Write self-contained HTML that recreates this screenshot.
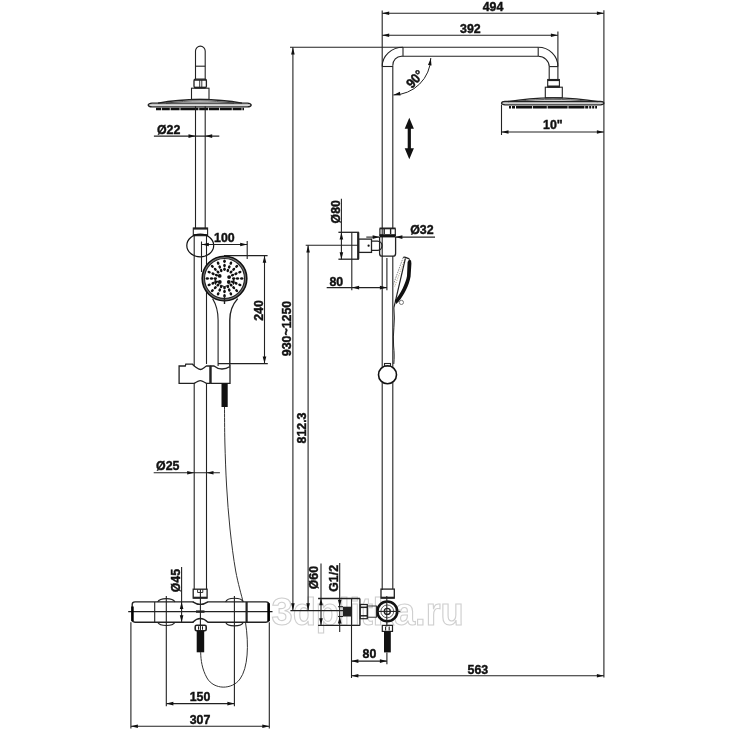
<!DOCTYPE html>
<html><head><meta charset="utf-8"><style>
html,body{margin:0;padding:0;background:#fff;width:734px;height:734px;overflow:hidden}
svg{display:block;will-change:transform}
text{font-family:"Liberation Sans",sans-serif}
</style></head><body>
<svg width="734" height="734" viewBox="0 0 734 734" font-family="Liberation Sans, sans-serif"><text x="271.5" y="625" font-size="38" font-weight="bold" fill="none" stroke="#cfcfcf" stroke-width="1.1">3dplitka.ru</text>
<line x1="382.2" y1="10.5" x2="382.2" y2="590" stroke="#222" stroke-width="1.1"/>
<line x1="382.2" y1="13.2" x2="603.9" y2="13.2" stroke="#222" stroke-width="1.1"/>
<path d="M382.20,13.20 L389.20,11.40 L389.20,15.00 Z" fill="#111"/>
<path d="M603.90,13.20 L596.90,15.00 L596.90,11.40 Z" fill="#111"/>
<text x="0" y="0" font-size="13.6" text-anchor="middle" font-weight="bold" fill="#111" stroke="#111" stroke-width="0.45" transform="translate(493 10.8) scale(0.91 1)" >494</text>
<line x1="382.2" y1="35.2" x2="557.9" y2="35.2" stroke="#222" stroke-width="1.1"/>
<path d="M382.20,35.20 L389.20,33.40 L389.20,37.00 Z" fill="#111"/>
<path d="M557.90,35.20 L550.90,37.00 L550.90,33.40 Z" fill="#111"/>
<text x="0" y="0" font-size="13.6" text-anchor="middle" font-weight="bold" fill="#111" stroke="#111" stroke-width="0.45" transform="translate(470.4 32.7) scale(0.91 1)" >392</text>
<line x1="557.9" y1="31.5" x2="557.9" y2="79.5" stroke="#222" stroke-width="1.1"/>
<line x1="603.9" y1="10.2" x2="603.9" y2="677.5" stroke="#222" stroke-width="1.1"/>
<line x1="290" y1="47.3" x2="538.2" y2="47.3" stroke="#222" stroke-width="1.1"/>
<line x1="401" y1="56.3" x2="538.2" y2="56.3" stroke="#222" stroke-width="1.1"/>
<path d="M382.2,66.5 A20.8,19.2 0 0 1 403,47.3" stroke="#222" stroke-width="1.1" fill="none"/>
<line x1="403" y1="47.3" x2="403" y2="56.3" stroke="#222" stroke-width="1.1"/>
<line x1="382.2" y1="66.5" x2="392.8" y2="66.5" stroke="#222" stroke-width="1.1"/>
<path d="M392.8,65.5 A8.5,9.2 0 0 1 401.3,56.3" stroke="#222" stroke-width="1.1" fill="none"/>
<line x1="392.8" y1="65.5" x2="392.8" y2="228" stroke="#222" stroke-width="1.1"/>
<line x1="538.2" y1="47.3" x2="538.2" y2="56.3" stroke="#222" stroke-width="1.1"/>
<path d="M538.2,47.3 A19.7,19.3 0 0 1 557.9,66.6" stroke="#222" stroke-width="1.1" fill="none"/>
<path d="M538.2,56.3 A11,10.3 0 0 1 549.2,66.6" stroke="#222" stroke-width="1.1" fill="none"/>
<line x1="549.2" y1="66.6" x2="557.9" y2="66.6" stroke="#222" stroke-width="1.1"/>
<line x1="549.2" y1="66.6" x2="549.2" y2="79.5" stroke="#222" stroke-width="1.1"/>
<rect x="547.7" y="79.5" width="11.7" height="7.7" rx="0" stroke="#222" stroke-width="1.1" fill="none"/>
<line x1="547.7" y1="80.3" x2="559.4" y2="80.3" stroke="#222" stroke-width="1.6"/>
<line x1="547.7" y1="86.3" x2="559.4" y2="86.3" stroke="#222" stroke-width="1.6"/>
<rect x="545.3" y="87.2" width="17.0" height="10.6" rx="0" stroke="#222" stroke-width="1.1" fill="none"/>
<path d="M501.5,103.1 Q501.9,101.6 505,101.5 L600.4,101.5 Q603.5,101.6 603.9,103.1 Q603.5,104.7 600.4,104.8 L505,104.8 Q501.9,104.7 501.5,103.1 Z" stroke="#222" stroke-width="1.3" fill="none"/>
<path d="M508,101.6 C526,98.3 540,97.8 553,97.8 C566,97.8 580,98.3 598,101.6" stroke="#222" stroke-width="1.3" fill="none"/>
<path d="M516,101.6 C530,99.6 542,99.4 553,99.4 C564,99.4 576,99.6 590,101.6" stroke="#222" stroke-width="0.7" fill="none"/>
<line x1="509" y1="107.3" x2="597" y2="107.3" stroke="#111" stroke-width="2.5" stroke-dasharray="2 1 3 1 16 0.8 14 0.8 20 0.8 16 0.8 3 1 2 1"/>
<line x1="503" y1="103" x2="602" y2="103" stroke="#888" stroke-width="0.8"/>
<line x1="501.5" y1="104.6" x2="501.5" y2="135" stroke="#222" stroke-width="1.1"/>
<line x1="501.5" y1="132" x2="603.9" y2="132" stroke="#222" stroke-width="1.1"/>
<path d="M501.50,132.00 L508.50,130.20 L508.50,133.80 Z" fill="#111"/>
<path d="M603.90,132.00 L596.90,133.80 L596.90,130.20 Z" fill="#111"/>
<text x="0" y="0" font-size="13.6" text-anchor="middle" font-weight="bold" fill="#111" stroke="#111" stroke-width="0.45" transform="translate(552.9 129.4) scale(0.91 1)" >10"</text>
<path d="M430.8,58 A37.8,37.8 0 0 1 393.4,95" stroke="#222" stroke-width="1.0" fill="none"/>
<path d="M430.80,58.30 L431.54,65.49 L427.98,64.96 Z" fill="#111"/>
<path d="M393.40,95.00 L399.91,91.86 L400.62,95.39 Z" fill="#111"/>
<text x="0" y="0" font-size="13.6" text-anchor="middle" font-weight="bold" fill="#111" stroke="#111" stroke-width="0.45" transform="translate(418.3 82.2) rotate(-47) scale(0.91 1)" >90°</text>
<path d="M409.3,117.7 L413.9,128.7 L410.9,128.7 L410.9,148.3 L413.9,148.3 L409.3,159.3 L404.7,148.3 L407.7,148.3 L407.7,128.7 L404.7,128.7 Z" fill="#111"/>
<line x1="379.6" y1="228.4" x2="395.6" y2="228.4" stroke="#222" stroke-width="1.8"/>
<line x1="379.9" y1="228.4" x2="379.9" y2="236" stroke="#222" stroke-width="1.2"/>
<line x1="395.3" y1="228.4" x2="395.3" y2="236" stroke="#222" stroke-width="1.2"/>
<line x1="384.2" y1="229" x2="384.2" y2="234" stroke="#222" stroke-width="1.4"/>
<line x1="390.6" y1="229" x2="390.6" y2="234" stroke="#222" stroke-width="1.4"/>
<rect x="379.6" y="234.2" width="16.0" height="3.2" fill="#111"/>
<path d="M379.6,237 L379.6,253.6 Q379.6,256.2 382.2,256.2 L393,256.2 Q395.6,256.2 395.6,253.6 L395.6,237" stroke="#222" stroke-width="1.3" fill="none"/>
<line x1="366.3" y1="237.1" x2="379.6" y2="237.1" stroke="#222" stroke-width="1.1"/>
<path d="M379.60,237.10 L372.60,238.90 L372.60,235.30 Z" fill="#111"/>
<line x1="395.4" y1="237.1" x2="435" y2="237.1" stroke="#222" stroke-width="1.1"/>
<path d="M395.40,237.10 L402.40,235.30 L402.40,238.90 Z" fill="#111"/>
<text x="0" y="0" font-size="13.6" text-anchor="middle" font-weight="bold" fill="#111" stroke="#111" stroke-width="0.45" transform="translate(421.9 233.6) scale(0.91 1)" >Ø32</text>
<line x1="338.4" y1="232.3" x2="358.9" y2="232.3" stroke="#222" stroke-width="1.3"/>
<line x1="338.4" y1="259.2" x2="358.9" y2="259.2" stroke="#222" stroke-width="1.3"/>
<line x1="358.2" y1="232.3" x2="358.2" y2="259.2" stroke="#222" stroke-width="2.2"/>
<line x1="351.8" y1="232.3" x2="351.8" y2="290.3" stroke="#222" stroke-width="1.1"/>
<line x1="341.4" y1="198.7" x2="341.4" y2="259.2" stroke="#222" stroke-width="1.1"/>
<path d="M341.40,232.40 L343.20,239.40 L339.60,239.40 Z" fill="#111"/>
<path d="M341.40,259.20 L339.60,252.20 L343.20,252.20 Z" fill="#111"/>
<text x="0" y="0" font-size="13.6" text-anchor="middle" font-weight="bold" fill="#111" stroke="#111" stroke-width="0.45" transform="translate(340.2 211.7) rotate(-90) scale(0.91 1)" >Ø80</text>
<line x1="305.7" y1="245.2" x2="358.2" y2="245.2" stroke="#222" stroke-width="1.1"/>
<rect x="358.6" y="239.1" width="12.9" height="13.3" rx="0" stroke="#222" stroke-width="1.3" fill="none"/>
<circle cx="368.6" cy="245.7" r="1.1" fill="#111"/>
<path d="M371.5,241.2 L377.5,241.2 A4.5,4.55 0 0 1 377.5,250.3 L371.5,250.3" stroke="#222" stroke-width="1.3" fill="none"/>
<line x1="326.7" y1="287.6" x2="386.9" y2="287.6" stroke="#222" stroke-width="1.1"/>
<path d="M352.10,287.60 L359.10,285.80 L359.10,289.40 Z" fill="#111"/>
<path d="M386.90,287.60 L379.90,289.40 L379.90,285.80 Z" fill="#111"/>
<text x="0" y="0" font-size="13.6" text-anchor="middle" font-weight="bold" fill="#111" stroke="#111" stroke-width="0.45" transform="translate(336.3 285.8) scale(0.91 1)" >80</text>
<line x1="386.9" y1="258" x2="386.9" y2="290.3" stroke="#222" stroke-width="1.1"/>
<line x1="392.8" y1="256.1" x2="392.8" y2="589" stroke="#222" stroke-width="1.1"/>
<path d="M403.2,257.5 L393,285.4" stroke="#888" stroke-width="1.0" fill="none" stroke-dasharray="1.6 0.9"/>
<path d="M404.6,259.5 L394.5,287" stroke="#a09070" stroke-width="0.8" fill="none" stroke-dasharray="1.2 1.2"/>
<path d="M403.2,257.5 Q404,256.8 405.5,257.3 L409.4,258.9" stroke="#222" stroke-width="1.3" fill="none"/>
<path d="M405.4,258.4 L393.9,307.6" stroke="#222" stroke-width="1.2" fill="none"/>
<path d="M409.4,258.9 Q411.8,260.3 411.4,263.5 L410.6,276.6 C409.6,282 408,286 406,290 C403.8,294.5 401.2,298.5 398.5,301.8 L396.2,304 L394.8,300.6 C397.5,297.5 400.5,292.5 402.6,288.5 C404.6,284 406.4,280 407,276 L407.6,262 Z" fill="#111"/>
<circle cx="401.4" cy="302.4" r="2.1" fill="#fff" stroke="#666" stroke-width="0.9"/>
<path d="M393.9,307.6 C395.5,322 392.4,334 393.6,346 C394.2,352 394.4,358 393.8,364" stroke="#222" stroke-width="1.0" fill="none"/>
<circle cx="387.5" cy="374.8" r="9" fill="#fff" stroke="#111" stroke-width="1.6"/>
<rect x="384.5" y="363.5" width="6.0" height="2.5" rx="0" stroke="#222" stroke-width="1.1" fill="none"/>
<line x1="292.9" y1="47.3" x2="292.9" y2="610.6" stroke="#222" stroke-width="1.1"/>
<path d="M292.90,47.60 L294.70,54.60 L291.10,54.60 Z" fill="#111"/>
<path d="M292.90,610.30 L291.10,603.30 L294.70,603.30 Z" fill="#111"/>
<text x="0" y="0" font-size="13.6" text-anchor="middle" font-weight="bold" fill="#111" stroke="#111" stroke-width="0.45" transform="translate(290.6 328.5) rotate(-90) scale(0.91 1)" >930~1250</text>
<line x1="308.1" y1="245.3" x2="308.1" y2="610.6" stroke="#222" stroke-width="1.1"/>
<path d="M308.10,245.60 L309.90,252.60 L306.30,252.60 Z" fill="#111"/>
<path d="M308.10,610.30 L306.30,603.30 L309.90,603.30 Z" fill="#111"/>
<text x="0" y="0" font-size="13.6" text-anchor="middle" font-weight="bold" fill="#111" stroke="#111" stroke-width="0.45" transform="translate(305.8 428.0) rotate(-90) scale(0.91 1)" >812.3</text>
<rect x="381" y="589.1" width="13.3" height="9.0" rx="0" stroke="#222" stroke-width="1.3" fill="none"/>
<line x1="381" y1="597.6" x2="394.3" y2="597.6" stroke="#222" stroke-width="1.8"/>
<line x1="290.4" y1="610.6" x2="351.5" y2="610.6" stroke="#222" stroke-width="1.1"/>
<circle cx="387.3" cy="611.4" r="9.9" fill="#fff" stroke="#111" stroke-width="2.6"/>
<circle cx="387.3" cy="611.4" r="6.4" fill="none" stroke="#666" stroke-width="1.0"/>
<circle cx="387.3" cy="611.4" r="3.0" fill="none" stroke="#222" stroke-width="1.4"/>
<line x1="376" y1="611.4" x2="400.4" y2="611.4" stroke="#222" stroke-width="1.1"/>
<line x1="386.8" y1="595.9" x2="386.8" y2="626.5" stroke="#222" stroke-width="1.1"/>
<rect x="360.2" y="604.5" width="7.1" height="14.2" rx="0" stroke="#222" stroke-width="1.2" fill="none"/>
<line x1="360.2" y1="607.3" x2="367.3" y2="607.3" stroke="#222" stroke-width="1.5"/>
<line x1="360.2" y1="615.8" x2="367.3" y2="615.8" stroke="#222" stroke-width="1.5"/>
<rect x="367.3" y="606" width="9.2" height="11.2" rx="0" stroke="#222" stroke-width="0.9" fill="none"/>
<line x1="318.1" y1="598.5" x2="359.9" y2="598.5" stroke="#222" stroke-width="1.3"/>
<line x1="318.1" y1="625.4" x2="359.9" y2="625.4" stroke="#222" stroke-width="1.3"/>
<line x1="359.9" y1="598.5" x2="359.9" y2="625.4" stroke="#222" stroke-width="1.3"/>
<line x1="351.5" y1="598.3" x2="351.5" y2="678" stroke="#222" stroke-width="1.1"/>
<rect x="342.8" y="606.7" width="8.7" height="9.8" fill="#222"/>
<line x1="338" y1="606.7" x2="343" y2="606.7" stroke="#222" stroke-width="1.1"/>
<line x1="338" y1="616.5" x2="343" y2="616.5" stroke="#222" stroke-width="1.1"/>
<line x1="321" y1="563.6" x2="321" y2="625.2" stroke="#222" stroke-width="1.1"/>
<path d="M321.00,598.30 L322.80,605.30 L319.20,605.30 Z" fill="#111"/>
<path d="M321.00,625.20 L319.20,618.20 L322.80,618.20 Z" fill="#111"/>
<text x="0" y="0" font-size="13.6" text-anchor="middle" font-weight="bold" fill="#111" stroke="#111" stroke-width="0.45" transform="translate(318.4 577.6) rotate(-90) scale(0.91 1)" >Ø60</text>
<line x1="339.7" y1="563" x2="339.7" y2="632" stroke="#222" stroke-width="1.1"/>
<path d="M339.70,606.70 L337.90,599.70 L341.50,599.70 Z" fill="#111"/>
<path d="M339.70,616.50 L341.50,623.50 L337.90,623.50 Z" fill="#111"/>
<text x="0" y="0" font-size="13.6" text-anchor="middle" font-weight="bold" fill="#111" stroke="#111" stroke-width="0.45" transform="translate(337.6 578.4) rotate(-90) scale(0.91 1)" >G1/2</text>
<rect x="382.3" y="625.4" width="10.2" height="6.0" rx="0" stroke="#222" stroke-width="1.2" fill="none"/>
<line x1="385.6" y1="626.5" x2="385.6" y2="630.4" stroke="#222" stroke-width="1.1"/>
<line x1="389.2" y1="626.5" x2="389.2" y2="630.4" stroke="#222" stroke-width="1.1"/>
<rect x="384" y="631.3" width="6.8" height="21.1" fill="#111"/>
<line x1="386.9" y1="652.4" x2="386.9" y2="664.3" stroke="#222" stroke-width="1.1"/>
<line x1="351.4" y1="661.1" x2="386.9" y2="661.1" stroke="#222" stroke-width="1.1"/>
<path d="M351.40,661.10 L358.40,659.30 L358.40,662.90 Z" fill="#111"/>
<path d="M386.90,661.10 L379.90,662.90 L379.90,659.30 Z" fill="#111"/>
<text x="0" y="0" font-size="13.6" text-anchor="middle" font-weight="bold" fill="#111" stroke="#111" stroke-width="0.45" transform="translate(369.4 658.3) scale(0.91 1)" >80</text>
<line x1="351.4" y1="675.8" x2="603.9" y2="675.8" stroke="#222" stroke-width="1.1"/>
<path d="M351.40,675.80 L358.40,674.00 L358.40,677.60 Z" fill="#111"/>
<path d="M603.90,675.80 L596.90,677.60 L596.90,674.00 Z" fill="#111"/>
<text x="0" y="0" font-size="13.6" text-anchor="middle" font-weight="bold" fill="#111" stroke="#111" stroke-width="0.45" transform="translate(477.9 674.4) scale(0.91 1)" >563</text>
<path d="M195.5,79.2 L195.5,51 A4.85,4.85 0 0 1 205.2,51 L205.2,79.2" stroke="#222" stroke-width="1.1" fill="none"/>
<line x1="195.5" y1="66.2" x2="205.2" y2="66.2" stroke="#222" stroke-width="1.1"/>
<rect x="194" y="79.2" width="12.4" height="8.6" rx="1.5" stroke="#222" stroke-width="1.3" fill="none"/>
<line x1="194" y1="80" x2="206.2" y2="80" stroke="#222" stroke-width="1.5"/>
<line x1="194" y1="87.4" x2="206.2" y2="87.4" stroke="#222" stroke-width="1.5"/>
<line x1="199.7" y1="80" x2="199.7" y2="87.4" stroke="#222" stroke-width="0.9"/>
<line x1="201.8" y1="80" x2="201.8" y2="87.4" stroke="#222" stroke-width="0.9"/>
<rect x="191.5" y="88.2" width="17.5" height="11.2" rx="0" stroke="#222" stroke-width="1.1" fill="none"/>
<path d="M148.2,105 Q148.6,103.2 152,103.1 L247.4,103.1 Q250.8,103.2 251.2,105 Q250.8,106.8 247.4,106.9 L152,106.9 Q148.6,106.8 148.2,105 Z" stroke="#222" stroke-width="1.3" fill="none"/>
<path d="M158,103.2 C175,100 188,99.5 200,99.5 C212,99.5 225,100 242,103.2" stroke="#222" stroke-width="1.3" fill="none"/>
<path d="M166,103.2 C178,101.4 190,101 200,101 C210,101 222,101.4 234,103.2" stroke="#222" stroke-width="0.7" fill="none"/>
<line x1="156" y1="109.0" x2="244" y2="109.0" stroke="#111" stroke-width="2.6" stroke-dasharray="5 0.8 8 0.8 9 0.8 18 0.8 9 0.8 10 0.8 12 0.8 9 0.8 10 1 4"/>
<line x1="150" y1="104.9" x2="249.5" y2="104.9" stroke="#888" stroke-width="0.8"/>
<line x1="195.5" y1="106.2" x2="195.5" y2="228" stroke="#222" stroke-width="1.1"/>
<line x1="205.2" y1="106.2" x2="205.2" y2="228" stroke="#222" stroke-width="1.1"/>
<text x="0" y="0" font-size="13.6" text-anchor="middle" font-weight="bold" fill="#111" stroke="#111" stroke-width="0.45" transform="translate(168.6 133.6) scale(0.91 1)" >Ø22</text>
<line x1="153.9" y1="136.1" x2="219.3" y2="136.1" stroke="#222" stroke-width="1.1"/>
<path d="M195.50,136.10 L188.50,137.90 L188.50,134.30 Z" fill="#111"/>
<path d="M205.20,136.10 L212.20,134.30 L212.20,137.90 Z" fill="#111"/>
<rect x="193.3" y="228" width="14.3" height="7.7" rx="0" stroke="#222" stroke-width="1.1" fill="none"/>
<line x1="193.3" y1="228.7" x2="207.6" y2="228.7" stroke="#222" stroke-width="1.8"/>
<line x1="193.3" y1="235" x2="207.6" y2="235" stroke="#222" stroke-width="1.8"/>
<ellipse cx="200.25" cy="245.5" rx="13.45" ry="11.3" fill="none" stroke="#111" stroke-width="1.2"/>
<line x1="194.2" y1="235.7" x2="194.2" y2="589.2" stroke="#222" stroke-width="1.1"/>
<line x1="206.5" y1="235.7" x2="206.5" y2="364" stroke="#222" stroke-width="1.1"/>
<line x1="206.5" y1="383.4" x2="206.5" y2="589.2" stroke="#222" stroke-width="1.1"/>
<line x1="201.5" y1="241.5" x2="201.5" y2="272" stroke="#222" stroke-width="1.1"/>
<line x1="201.5" y1="244.5" x2="247.2" y2="244.5" stroke="#222" stroke-width="1.1"/>
<path d="M201.80,244.50 L208.80,242.70 L208.80,246.30 Z" fill="#111"/>
<path d="M247.20,244.50 L240.20,246.30 L240.20,242.70 Z" fill="#111"/>
<text x="0" y="0" font-size="13.6" text-anchor="middle" font-weight="bold" fill="#111" stroke="#111" stroke-width="0.45" transform="translate(224.4 241.6) scale(0.91 1)" >100</text>
<line x1="247.2" y1="241" x2="247.2" y2="259" stroke="#222" stroke-width="1.1"/>
<circle cx="224.5" cy="278.5" r="21.2" fill="#fff" stroke="#777" stroke-width="2.6"/>
<circle cx="224.5" cy="278.5" r="22.3" fill="none" stroke="#111" stroke-width="1.6"/>
<circle cx="224.5" cy="278.5" r="20.0" fill="none" stroke="#222" stroke-width="1.1"/>
<ellipse cx="224.50" cy="261.30" rx="1.7" ry="1.3" transform="rotate(-90.0 224.50 261.30)" fill="#111"/><ellipse cx="224.50" cy="265.50" rx="1.7" ry="1.3" transform="rotate(-90.0 224.50 265.50)" fill="#111"/><ellipse cx="224.50" cy="269.30" rx="1.7" ry="1.3" transform="rotate(-90.0 224.50 269.30)" fill="#111"/><ellipse cx="230.85" cy="263.16" rx="1.7" ry="1.3" transform="rotate(-67.5 230.85 263.16)" fill="#111"/><ellipse cx="229.25" cy="267.04" rx="1.7" ry="1.3" transform="rotate(-67.5 229.25 267.04)" fill="#111"/><ellipse cx="227.83" cy="270.46" rx="1.7" ry="1.3" transform="rotate(-67.5 227.83 270.46)" fill="#111"/><ellipse cx="236.66" cy="266.34" rx="1.7" ry="1.3" transform="rotate(-45.0 236.66 266.34)" fill="#111"/><ellipse cx="233.69" cy="269.31" rx="1.7" ry="1.3" transform="rotate(-45.0 233.69 269.31)" fill="#111"/><ellipse cx="231.01" cy="271.99" rx="1.7" ry="1.3" transform="rotate(-45.0 231.01 271.99)" fill="#111"/><ellipse cx="239.84" cy="272.15" rx="1.7" ry="1.3" transform="rotate(-22.5 239.84 272.15)" fill="#111"/><ellipse cx="235.96" cy="273.75" rx="1.7" ry="1.3" transform="rotate(-22.5 235.96 273.75)" fill="#111"/><ellipse cx="232.54" cy="275.17" rx="1.7" ry="1.3" transform="rotate(-22.5 232.54 275.17)" fill="#111"/><ellipse cx="241.70" cy="278.50" rx="1.7" ry="1.3" transform="rotate(0.0 241.70 278.50)" fill="#111"/><ellipse cx="237.50" cy="278.50" rx="1.7" ry="1.3" transform="rotate(0.0 237.50 278.50)" fill="#111"/><ellipse cx="233.70" cy="278.50" rx="1.7" ry="1.3" transform="rotate(0.0 233.70 278.50)" fill="#111"/><ellipse cx="239.84" cy="284.85" rx="1.7" ry="1.3" transform="rotate(22.5 239.84 284.85)" fill="#111"/><ellipse cx="235.96" cy="283.25" rx="1.7" ry="1.3" transform="rotate(22.5 235.96 283.25)" fill="#111"/><ellipse cx="232.54" cy="281.83" rx="1.7" ry="1.3" transform="rotate(22.5 232.54 281.83)" fill="#111"/><ellipse cx="236.66" cy="290.66" rx="1.7" ry="1.3" transform="rotate(45.0 236.66 290.66)" fill="#111"/><ellipse cx="233.69" cy="287.69" rx="1.7" ry="1.3" transform="rotate(45.0 233.69 287.69)" fill="#111"/><ellipse cx="231.01" cy="285.01" rx="1.7" ry="1.3" transform="rotate(45.0 231.01 285.01)" fill="#111"/><ellipse cx="230.85" cy="293.84" rx="1.7" ry="1.3" transform="rotate(67.5 230.85 293.84)" fill="#111"/><ellipse cx="229.25" cy="289.96" rx="1.7" ry="1.3" transform="rotate(67.5 229.25 289.96)" fill="#111"/><ellipse cx="227.83" cy="286.54" rx="1.7" ry="1.3" transform="rotate(67.5 227.83 286.54)" fill="#111"/><ellipse cx="224.50" cy="295.70" rx="1.7" ry="1.3" transform="rotate(90.0 224.50 295.70)" fill="#111"/><ellipse cx="224.50" cy="291.50" rx="1.7" ry="1.3" transform="rotate(90.0 224.50 291.50)" fill="#111"/><ellipse cx="224.50" cy="287.70" rx="1.7" ry="1.3" transform="rotate(90.0 224.50 287.70)" fill="#111"/><ellipse cx="218.15" cy="293.84" rx="1.7" ry="1.3" transform="rotate(112.5 218.15 293.84)" fill="#111"/><ellipse cx="219.75" cy="289.96" rx="1.7" ry="1.3" transform="rotate(112.5 219.75 289.96)" fill="#111"/><ellipse cx="221.17" cy="286.54" rx="1.7" ry="1.3" transform="rotate(112.5 221.17 286.54)" fill="#111"/><ellipse cx="212.34" cy="290.66" rx="1.7" ry="1.3" transform="rotate(135.0 212.34 290.66)" fill="#111"/><ellipse cx="215.31" cy="287.69" rx="1.7" ry="1.3" transform="rotate(135.0 215.31 287.69)" fill="#111"/><ellipse cx="217.99" cy="285.01" rx="1.7" ry="1.3" transform="rotate(135.0 217.99 285.01)" fill="#111"/><ellipse cx="209.16" cy="284.85" rx="1.7" ry="1.3" transform="rotate(157.5 209.16 284.85)" fill="#111"/><ellipse cx="213.04" cy="283.25" rx="1.7" ry="1.3" transform="rotate(157.5 213.04 283.25)" fill="#111"/><ellipse cx="216.46" cy="281.83" rx="1.7" ry="1.3" transform="rotate(157.5 216.46 281.83)" fill="#111"/><ellipse cx="207.30" cy="278.50" rx="1.7" ry="1.3" transform="rotate(180.0 207.30 278.50)" fill="#111"/><ellipse cx="211.50" cy="278.50" rx="1.7" ry="1.3" transform="rotate(180.0 211.50 278.50)" fill="#111"/><ellipse cx="215.30" cy="278.50" rx="1.7" ry="1.3" transform="rotate(180.0 215.30 278.50)" fill="#111"/><ellipse cx="209.16" cy="272.15" rx="1.7" ry="1.3" transform="rotate(202.5 209.16 272.15)" fill="#111"/><ellipse cx="213.04" cy="273.75" rx="1.7" ry="1.3" transform="rotate(202.5 213.04 273.75)" fill="#111"/><ellipse cx="216.46" cy="275.17" rx="1.7" ry="1.3" transform="rotate(202.5 216.46 275.17)" fill="#111"/><ellipse cx="212.34" cy="266.34" rx="1.7" ry="1.3" transform="rotate(225.0 212.34 266.34)" fill="#111"/><ellipse cx="215.31" cy="269.31" rx="1.7" ry="1.3" transform="rotate(225.0 215.31 269.31)" fill="#111"/><ellipse cx="217.99" cy="271.99" rx="1.7" ry="1.3" transform="rotate(225.0 217.99 271.99)" fill="#111"/><ellipse cx="218.15" cy="263.16" rx="1.7" ry="1.3" transform="rotate(247.5 218.15 263.16)" fill="#111"/><ellipse cx="219.75" cy="267.04" rx="1.7" ry="1.3" transform="rotate(247.5 219.75 267.04)" fill="#111"/><ellipse cx="221.17" cy="270.46" rx="1.7" ry="1.3" transform="rotate(247.5 221.17 270.46)" fill="#111"/><circle cx="219.70" cy="275.90" r="1.9" fill="#111"/><circle cx="219.80" cy="282.00" r="1.9" fill="#111"/><circle cx="229.10" cy="277.10" r="1.9" fill="#111"/><circle cx="228.80" cy="282.00" r="1.9" fill="#111"/>
<path d="M219.9,285.1 Q224.5,288.1 229.1,285.1" fill="none" stroke="#222" stroke-width="1.0"/>
<path d="M215.5,279.0 Q214.2,282.0 215.9,284.5" fill="none" stroke="#111" stroke-width="1.4"/>
<path d="M233.5,279.0 Q234.8,282.0 233.1,284.5" fill="none" stroke="#111" stroke-width="1.4"/>
<line x1="224.5" y1="296" x2="224.5" y2="304" stroke="#222" stroke-width="1.4"/>
<line x1="221.5" y1="300.5" x2="227.5" y2="300.5" stroke="#222" stroke-width="1.2"/>
<line x1="224" y1="255.6" x2="267.6" y2="255.6" stroke="#222" stroke-width="1.1"/>
<line x1="264.5" y1="255.6" x2="264.5" y2="363.6" stroke="#222" stroke-width="1.1"/>
<path d="M264.50,255.80 L266.30,262.80 L262.70,262.80 Z" fill="#111"/>
<path d="M264.50,363.40 L262.70,356.40 L266.30,356.40 Z" fill="#111"/>
<line x1="218" y1="363.6" x2="267.8" y2="363.6" stroke="#222" stroke-width="1.1"/>
<text x="0" y="0" font-size="13.6" text-anchor="middle" font-weight="bold" fill="#111" stroke="#111" stroke-width="0.45" transform="translate(263.4 310.5) rotate(-90) scale(0.91 1)" >240</text>
<path d="M212.6,298.6 C216.5,305 218.1,312 218.1,320 L218.1,366" stroke="#222" stroke-width="1.1" fill="none"/>
<path d="M237.7,298.6 C232,305 229.8,312 229.8,320 L229.8,366" stroke="#222" stroke-width="1.4" fill="none"/>
<path d="M179.1,366 L185.3,366 L185.8,364.2 L192.5,364.2 L194.2,366 C197,368 198.5,369.5 200.3,369.5 C202,369.5 203.5,368 206.5,366 L210.5,366 L210.5,383.4 L206.5,383.4 C203.5,381.5 202,380.6 200.3,380.6 C198.5,380.6 197,381.5 194.2,383.4 L179.1,383.4 Z" stroke="#222" stroke-width="1.3" fill="#fff"/>
<path d="M210.5,366 L214,366 C217,368.5 219,369 222,369 C225,369 227,368.5 230,366.5 L230,383.4 L210.5,383.4" stroke="#222" stroke-width="1.3" fill="#fff"/>
<line x1="210.5" y1="366" x2="210.5" y2="383.4" stroke="#222" stroke-width="2.4"/>
<rect x="221.5" y="383.4" width="6.2" height="23.6" fill="#111"/>
<path d="M224.5,407 C224.57,413.00 224.55,429.83 224.9,443 C225.25,456.17 225.75,471.67 226.6,486 C227.45,500.33 228.48,514.83 230,529 C231.52,543.17 233.53,558.92 235.7,571 C237.87,583.08 241.78,596.42 243,601.5" stroke="#333" stroke-width="1.0" fill="none"/>
<path d="M245.5,622.3 C249,645 248,668 240,679 C232,690 214,690 207,678 C202,669 200.8,660 200.7,652.3" stroke="#333" stroke-width="1.0" fill="none"/>
<text x="0" y="0" font-size="13.6" text-anchor="middle" font-weight="bold" fill="#111" stroke="#111" stroke-width="0.45" transform="translate(167.7 470.3) scale(0.91 1)" >Ø25</text>
<line x1="153.7" y1="472.7" x2="219.9" y2="472.7" stroke="#222" stroke-width="1.1"/>
<path d="M194.20,472.70 L187.20,474.50 L187.20,470.90 Z" fill="#111"/>
<path d="M206.50,472.70 L213.50,470.90 L213.50,474.50 Z" fill="#111"/>
<text x="0" y="0" font-size="13.6" text-anchor="middle" font-weight="bold" fill="#111" stroke="#111" stroke-width="0.45" transform="translate(180.4 580.6) rotate(-90) scale(0.91 1)" >Ø45</text>
<line x1="181.6" y1="567" x2="181.6" y2="622.3" stroke="#222" stroke-width="1.1"/>
<path d="M181.60,602.00 L183.40,609.00 L179.80,609.00 Z" fill="#111"/>
<path d="M181.60,622.30 L179.80,615.30 L183.40,615.30 Z" fill="#111"/>
<path d="M135,601.9 L266,601.9 Q268.8,601.9 268.8,604.5 L268.8,619.6 Q268.8,622.2 266,622.2 L135,622.2 Q132.2,622.2 132.2,619.6 L132.2,604.5 Q132.2,601.9 135,601.9 Z" stroke="#222" stroke-width="1.35" fill="none"/>
<line x1="128.2" y1="611.6" x2="272.5" y2="611.6" stroke="#222" stroke-width="1.1"/>
<rect x="131.2" y="606.5" width="2.5" height="14.7" fill="#000"/>
<rect x="267.3" y="603.2" width="2.6" height="18.0" fill="#000"/>
<line x1="154.7" y1="602" x2="154.7" y2="622.3" stroke="#222" stroke-width="1.1"/>
<line x1="246.6" y1="602" x2="246.6" y2="622.3" stroke="#222" stroke-width="2.2"/>
<path d="M157.6,602 A9,4.6 0 0 1 175,602" stroke="#222" stroke-width="1.1" fill="none"/>
<path d="M157.6,622.3 A9,4.4 0 0 0 175,622.3" stroke="#222" stroke-width="1.1" fill="none"/>
<path d="M225.6,602 A9,4.6 0 0 1 243.3,602" stroke="#222" stroke-width="1.1" fill="none"/>
<path d="M225.6,622.3 A9,4.4 0 0 0 243.3,622.3" stroke="#222" stroke-width="1.1" fill="none"/>
<line x1="166.3" y1="596" x2="166.3" y2="706.2" stroke="#222" stroke-width="1.1"/>
<line x1="234.4" y1="596" x2="234.4" y2="706.2" stroke="#222" stroke-width="1.1"/>
<rect x="193.2" y="589.2" width="13.9" height="8.9" rx="0" stroke="#222" stroke-width="1.3" fill="none"/>
<line x1="193.2" y1="597.6" x2="207.1" y2="597.6" stroke="#222" stroke-width="1.8"/>
<path d="M197.6,589.5 L197.6,592.5 L202.8,592.5 L202.8,589.5" stroke="#222" stroke-width="0.9" fill="none"/>
<rect x="193.6" y="600.4" width="13.8" height="2.9" fill="#fff"/>
<rect x="193.6" y="620.8" width="13.8" height="2.8" fill="#fff"/>
<path d="M192.8,601.9 Q200.3,607 207.9,601.9" stroke="#222" stroke-width="1.3" fill="none"/>
<path d="M192.8,622.2 Q200.3,614.8 207.9,622.2" stroke="#222" stroke-width="1.3" fill="none"/>
<line x1="196" y1="611.6" x2="204.5" y2="611.6" stroke="#222" stroke-width="2.4"/>
<rect x="195.2" y="625.2" width="11.0" height="5.6" rx="1.5" stroke="#222" stroke-width="1.6" fill="none"/>
<line x1="198.5" y1="626.3" x2="198.5" y2="629.7" stroke="#222" stroke-width="1.0"/>
<line x1="202.5" y1="626.3" x2="202.5" y2="629.7" stroke="#222" stroke-width="1.0"/>
<line x1="200.4" y1="589.2" x2="200.4" y2="652.3" stroke="#222" stroke-width="1.1"/>
<rect x="196.7" y="630.8" width="7.5" height="21.5" fill="#111"/>
<line x1="130.9" y1="622.3" x2="130.9" y2="728.5" stroke="#222" stroke-width="1.1"/>
<line x1="269.3" y1="622.3" x2="269.3" y2="728.5" stroke="#222" stroke-width="1.1"/>
<line x1="166.4" y1="703.6" x2="234.4" y2="703.6" stroke="#222" stroke-width="1.1"/>
<path d="M166.40,703.60 L173.40,701.80 L173.40,705.40 Z" fill="#111"/>
<path d="M234.40,703.60 L227.40,705.40 L227.40,701.80 Z" fill="#111"/>
<text x="0" y="0" font-size="13.6" text-anchor="middle" font-weight="bold" fill="#111" stroke="#111" stroke-width="0.45" transform="translate(200 701.4) scale(0.91 1)" >150</text>
<line x1="130.9" y1="726.3" x2="269.3" y2="726.3" stroke="#222" stroke-width="1.1"/>
<path d="M130.90,726.30 L137.90,724.50 L137.90,728.10 Z" fill="#111"/>
<path d="M269.30,726.30 L262.30,728.10 L262.30,724.50 Z" fill="#111"/>
<text x="0" y="0" font-size="13.6" text-anchor="middle" font-weight="bold" fill="#111" stroke="#111" stroke-width="0.45" transform="translate(200 723.7) scale(0.91 1)" >307</text></svg>
</body></html>
